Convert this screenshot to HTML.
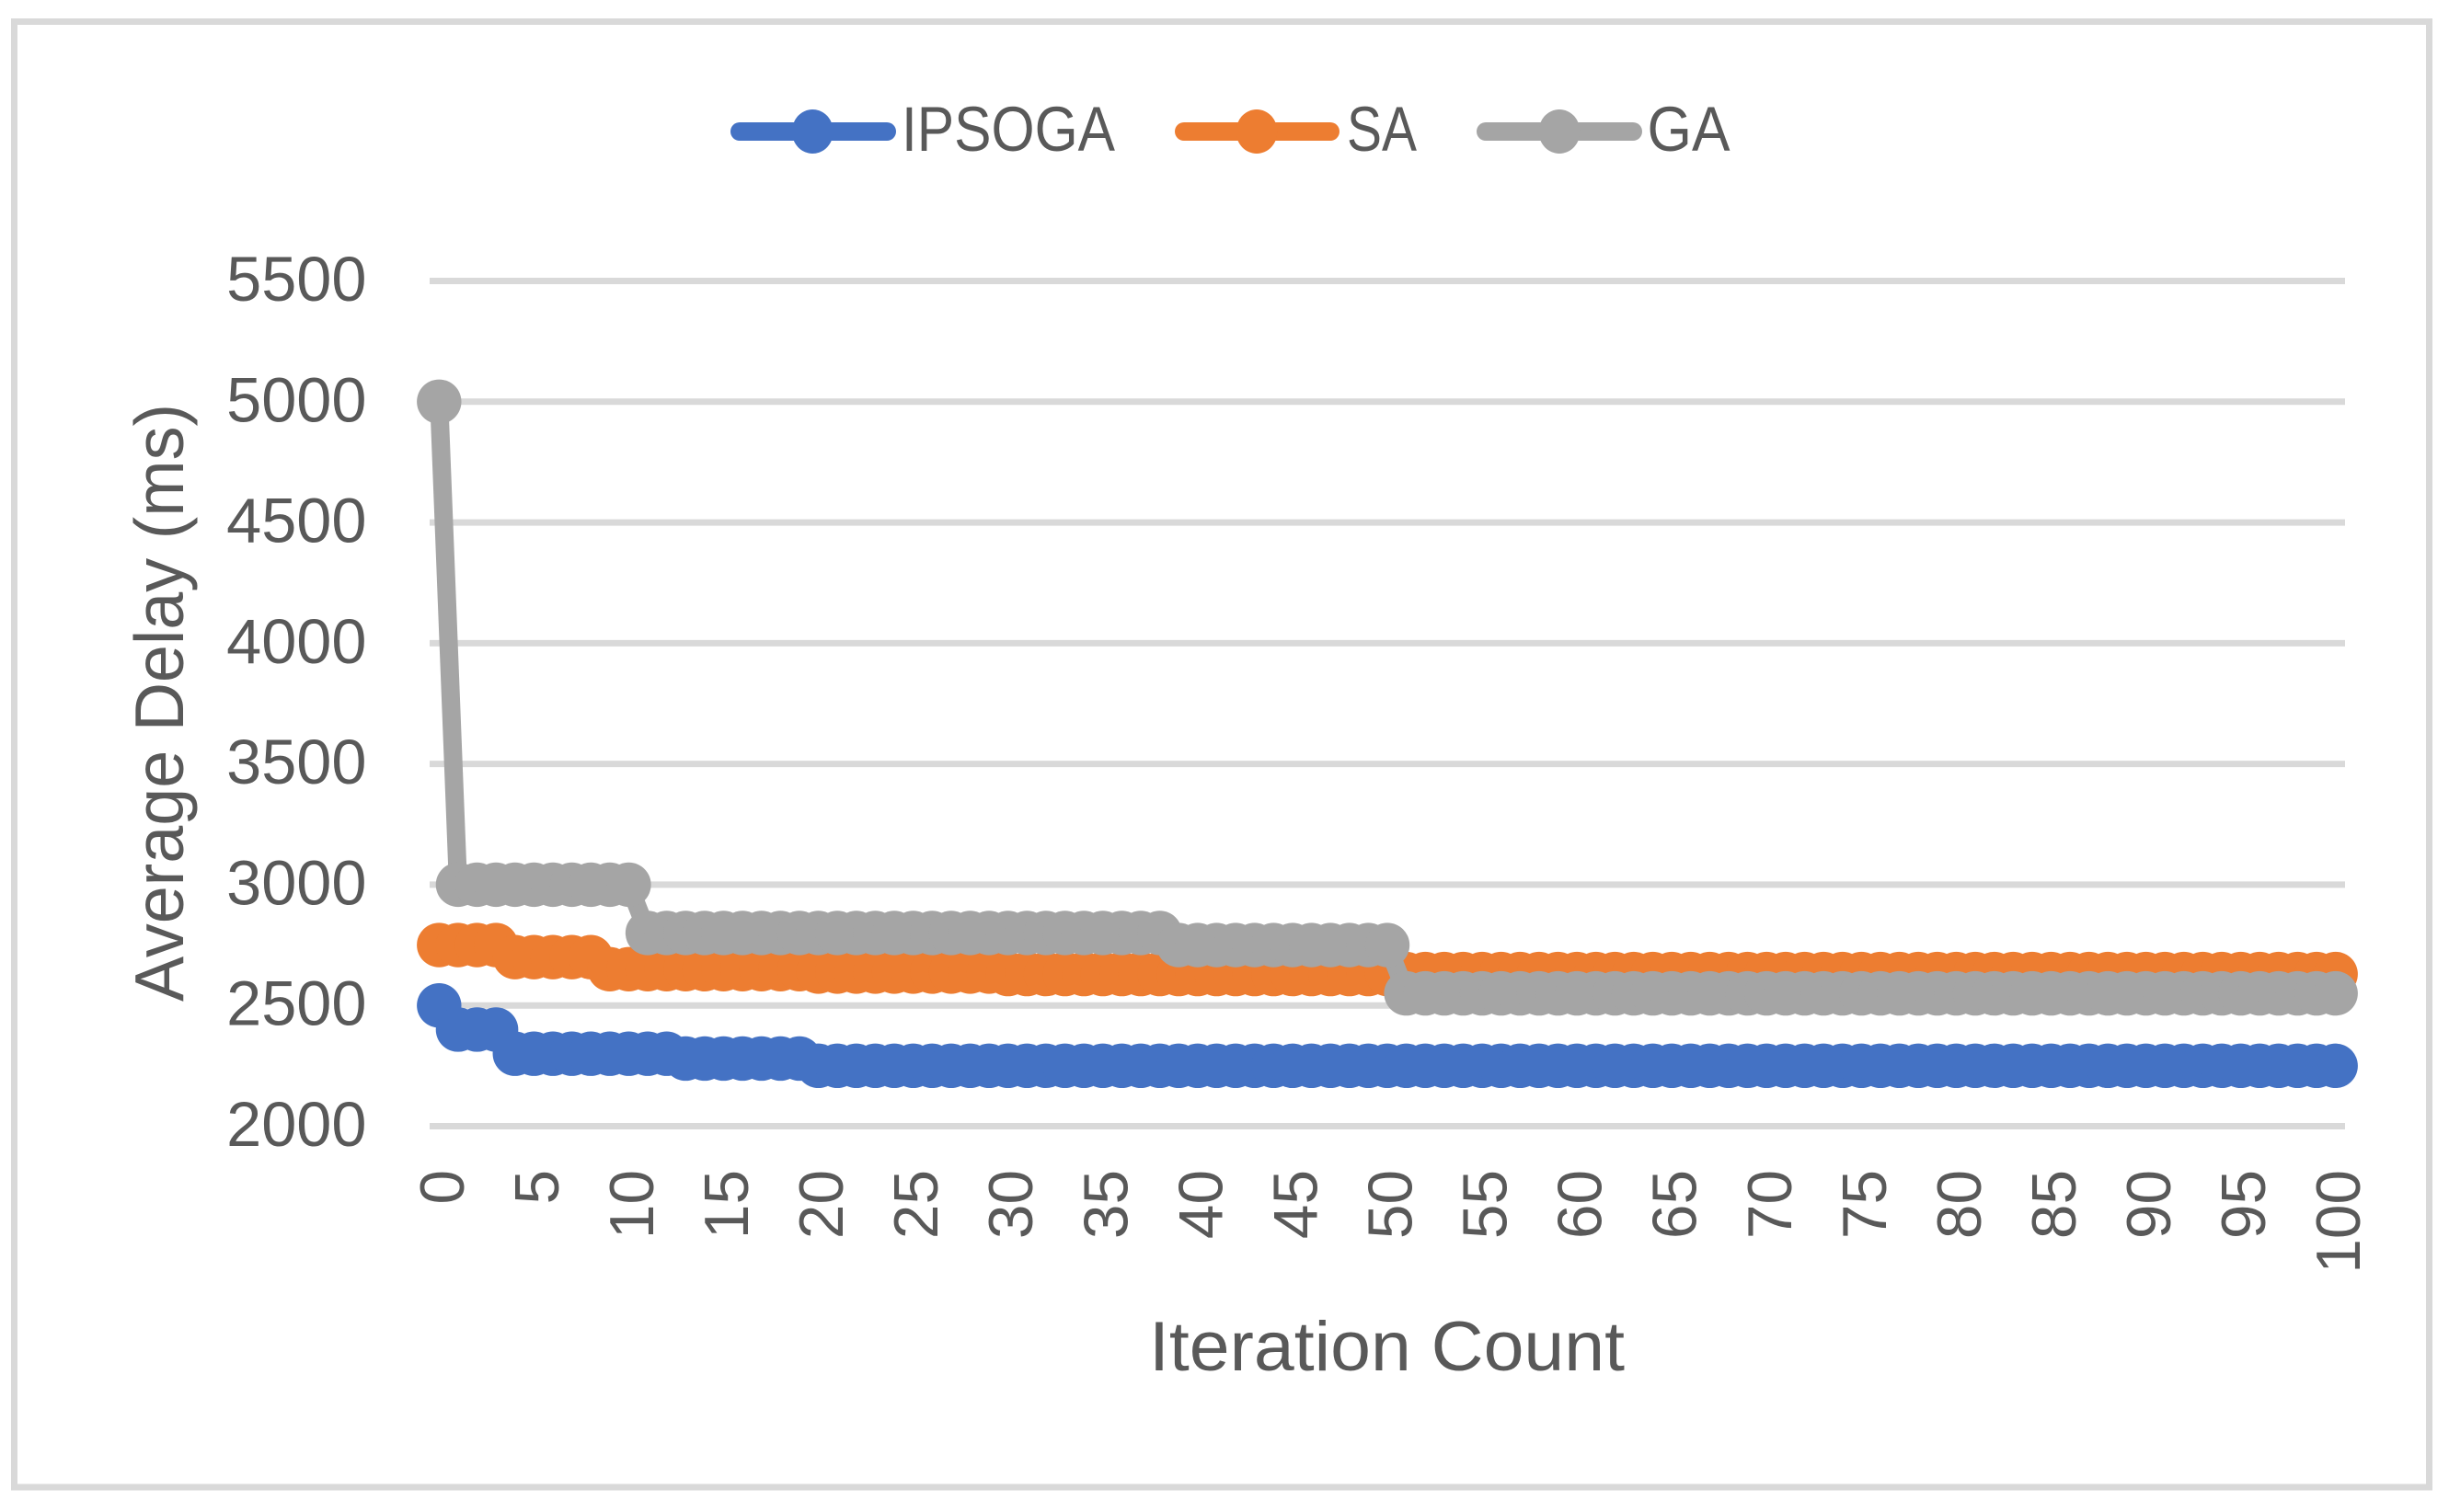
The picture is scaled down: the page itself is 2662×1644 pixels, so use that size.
<!DOCTYPE html>
<html>
<head>
<meta charset="utf-8">
<title>Average Delay vs Iteration Count</title>
<style>
html,body{margin:0;padding:0;background:#fff;}
svg{display:block;}
text{font-family:"Liberation Sans",sans-serif;fill:#595959;}
</style>
</head>
<body>
<svg id="chart" width="2662" height="1644" viewBox="0 0 2662 1644" xmlns="http://www.w3.org/2000/svg">
  <rect x="0" y="0" width="2662" height="1644" fill="#ffffff"/>
  <rect x="15.5" y="23.5" width="2625" height="1593.5" fill="none" stroke="#d9d9d9" stroke-width="7"/>

  <g id="grid"></g>
  <g id="yticks"></g>
  <g id="xticks"></g>
  <g id="series"></g>

  <text transform="translate(199,764) rotate(-90)" text-anchor="middle" font-size="75" textLength="650" lengthAdjust="spacingAndGlyphs">Average Delay (ms)</text>
  <text x="1249" y="1490" font-size="76" textLength="517" lengthAdjust="spacingAndGlyphs">Iteration Count</text>

  <g>
    <g>
      <line x1="804" y1="143" x2="964" y2="143" stroke="#4472c4" stroke-width="20" stroke-linecap="round"/>
      <ellipse cx="883.3" cy="143" rx="22.5" ry="24" fill="#4472c4"/>
      <text x="980" y="164" font-size="68.5" textLength="232" lengthAdjust="spacingAndGlyphs">IPSOGA</text>
    </g>
    <g>
      <line x1="1287" y1="143" x2="1446" y2="143" stroke="#ed7d31" stroke-width="20" stroke-linecap="round"/>
      <ellipse cx="1366" cy="143" rx="22.5" ry="24" fill="#ed7d31"/>
      <text x="1464" y="164" font-size="68.5" textLength="76" lengthAdjust="spacingAndGlyphs">SA</text>
    </g>
    <g>
      <line x1="1615" y1="143" x2="1775" y2="143" stroke="#a5a5a5" stroke-width="20" stroke-linecap="round"/>
      <ellipse cx="1695" cy="143" rx="22.5" ry="24" fill="#a5a5a5"/>
      <text x="1790.5" y="164" font-size="68.5" textLength="90" lengthAdjust="spacingAndGlyphs">GA</text>
    </g>
  </g>
</svg>
<script>
const iterations = [0,1,2,3,4,5,6,7,8,9,10,11,12,13,14,15,16,17,18,19,20,21,22,23,24,25,26,27,28,29,30,31,32,33,34,35,36,37,38,39,40,41,42,43,44,45,46,47,48,49,50,51,52,53,54,55,56,57,58,59,60,61,62,63,64,65,66,67,68,69,70,71,72,73,74,75,76,77,78,79,80,81,82,83,84,85,86,87,88,89,90,91,92,93,94,95,96,97,98,99,100];
const ipsogaValues = [2500,2400,2400,2400,2300,2300,2300,2300,2300,2300,2300,2300,2300,2280,2280,2280,2280,2280,2280,2280,2250,2250,2250,2250,2250,2250,2250,2250,2250,2250,2250,2250,2250,2250,2250,2250,2250,2250,2250,2250,2250,2250,2250,2250,2250,2250,2250,2250,2250,2250,2250,2250,2250,2250,2250,2250,2250,2250,2250,2250,2250,2250,2250,2250,2250,2250,2250,2250,2250,2250,2250,2250,2250,2250,2250,2250,2250,2250,2250,2250,2250,2250,2250,2250,2250,2250,2250,2250,2250,2250,2250,2250,2250,2250,2250,2250,2250,2250,2250,2250,2250];
const saValues = [2750,2750,2750,2750,2700,2700,2700,2700,2700,2650,2650,2650,2650,2650,2650,2650,2650,2650,2650,2650,2640,2640,2640,2640,2640,2640,2640,2640,2640,2640,2630,2630,2630,2630,2630,2630,2630,2630,2630,2630,2630,2630,2630,2630,2630,2630,2630,2630,2630,2630,2630,2630,2630,2630,2630,2630,2630,2630,2630,2630,2630,2630,2630,2630,2630,2630,2630,2630,2630,2630,2630,2630,2630,2630,2630,2630,2630,2630,2630,2630,2630,2630,2630,2630,2630,2630,2630,2630,2630,2630,2630,2630,2630,2630,2630,2630,2630,2630,2630,2630,2630];
const gaValues = [5000,3000,3000,3000,3000,3000,3000,3000,3000,3000,3000,2800,2800,2800,2800,2800,2800,2800,2800,2800,2800,2800,2800,2800,2800,2800,2800,2800,2800,2800,2800,2800,2800,2800,2800,2800,2800,2800,2800,2750,2750,2750,2750,2750,2750,2750,2750,2750,2750,2750,2750,2550,2550,2550,2550,2550,2550,2550,2550,2550,2550,2550,2550,2550,2550,2550,2550,2550,2550,2550,2550,2550,2550,2550,2550,2550,2550,2550,2550,2550,2550,2550,2550,2550,2550,2550,2550,2550,2550,2550,2550,2550,2550,2550,2550,2550,2550,2550,2550,2550,2550];
const yTickLabels = [2000,2500,3000,3500,4000,4500,5000,5500];
const xTickLabels = [0,5,10,15,20,25,30,35,40,45,50,55,60,65,70,75,80,85,90,95,100];

const NS = 'http://www.w3.org/2000/svg';
const plotLeft = 467, plotRight = 2549, plotTop = 305.5, plotBottom = 1224.5;
const yMin = 2000, yMax = 5500;

function xScale(v){
  const band = (plotRight - plotLeft) / iterations.length;
  return plotLeft + band * (v + 0.5);
}
function yScale(v){
  return plotBottom - (v - yMin) / (yMax - yMin) * (plotBottom - plotTop);
}
function make(tag, attrs, parent){
  const el = document.createElementNS(NS, tag);
  for (const k in attrs) el.setAttribute(k, attrs[k]);
  parent.appendChild(el);
  return el;
}

const gridG = document.getElementById('grid');
const yG = document.getElementById('yticks');
yTickLabels.forEach(function(t){
  const y = yScale(t);
  const gl = make('line', {x1: plotLeft, x2: plotRight, y1: y, y2: y, stroke: '#d9d9d9', 'stroke-width': 7}, gridG);
  
  
  const lab = make('text', {x: 398.5, y: y + 21.5, 'text-anchor': 'end', 'font-size': 68.5}, yG);
  lab.textContent = String(t);
  
  
});

const xG = document.getElementById('xticks');
xTickLabels.forEach(function(t){
  const x = xScale(t);
  const lab = make('text', {transform: 'translate(' + (x + 26.5) + ',1272) rotate(-90)', 'text-anchor': 'end', 'font-size': 67.5}, xG);
  lab.textContent = String(t);
  
  
});

const seriesG = document.getElementById('series');
function drawSeries(name, values, color){
  const g = make('g', {}, seriesG);
  
  
  const pts = values.map(function(v, i){ return xScale(iterations[i]) + ',' + yScale(v); }).join(' ');
  const line = make('polyline', {points: pts, fill: 'none', stroke: color, 'stroke-width': 20, 'stroke-linejoin': 'round', 'stroke-linecap': 'round'}, g);
  
  
  values.forEach(function(v, i){
    const c = make('circle', {cx: xScale(iterations[i]), cy: yScale(v), r: 24.2, fill: color}, g);
    
    
  });
}
drawSeries('ipsoga', ipsogaValues, '#4472c4');
drawSeries('sa', saValues, '#ed7d31');
drawSeries('ga', gaValues, '#a5a5a5');
</script>
</body>
</html>
